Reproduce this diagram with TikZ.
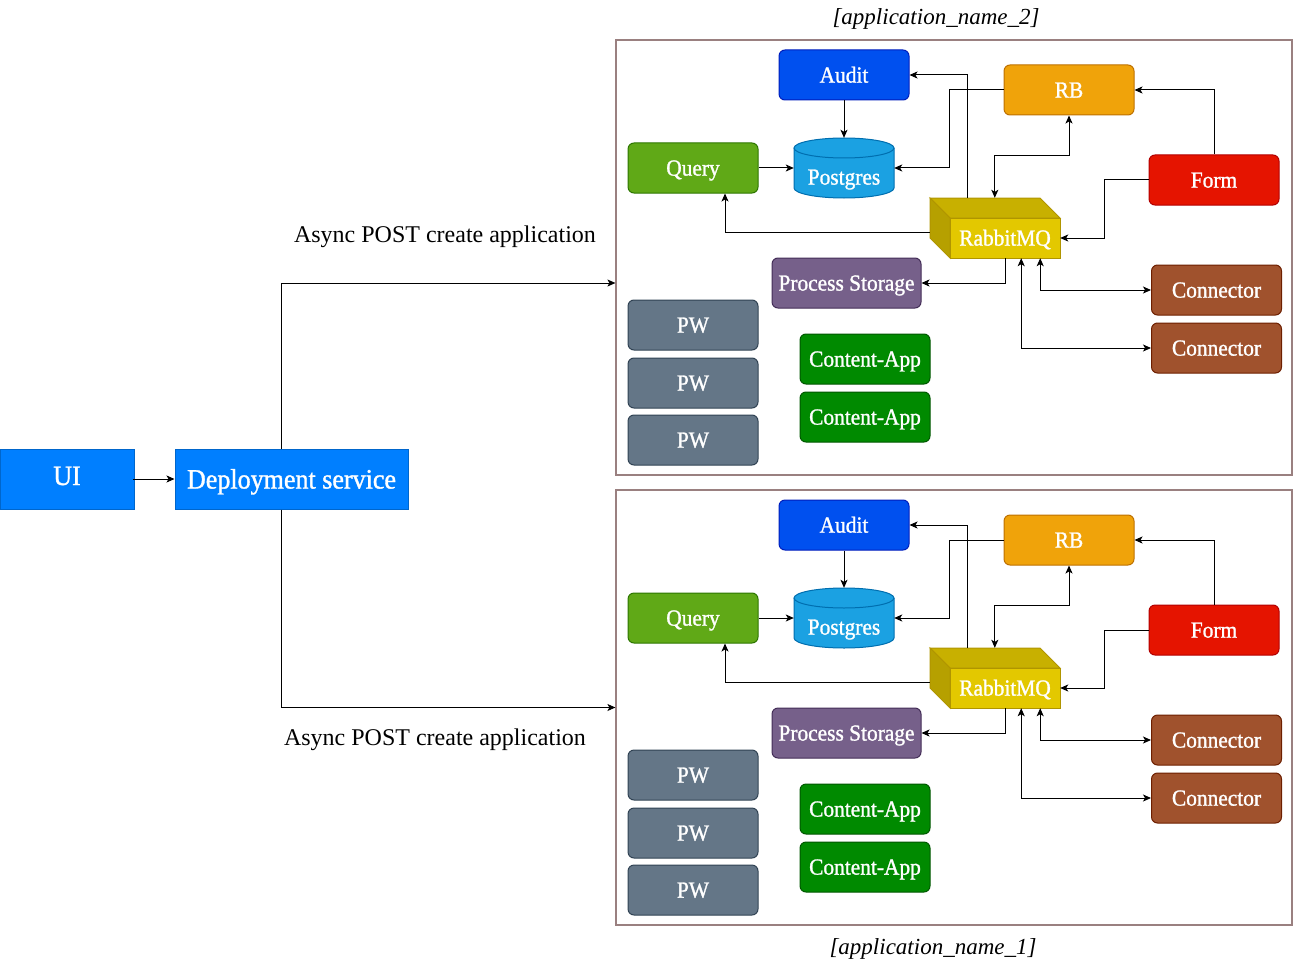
\documentclass[tikz,border=0pt]{standalone}
\usepackage{fontspec}
\setmainfont{Liberation Serif}
\newfontfamily\boxfont{Liberation Serif}[FakeStretch=0.93,FakeBold=1.2]
\usetikzlibrary{arrows.meta,calc}
\definecolor{auditf}{HTML}{0050EF}\definecolor{audits}{HTML}{001DBC}
\definecolor{rbf}{HTML}{F0A30A}\definecolor{rbs}{HTML}{BD7000}
\definecolor{queryf}{HTML}{60A917}\definecolor{querys}{HTML}{2D7600}
\definecolor{pgf}{HTML}{1BA1E2}\definecolor{pgs}{HTML}{006EAF}
\definecolor{formf}{HTML}{E51400}\definecolor{forms}{HTML}{B20000}
\definecolor{rmqf}{HTML}{E3C800}\definecolor{rmqs}{HTML}{B09500}
\definecolor{psf}{HTML}{76608A}\definecolor{pss}{HTML}{432D57}
\definecolor{conf}{HTML}{A0522D}\definecolor{cons}{HTML}{6D1F00}
\definecolor{pwf}{HTML}{647687}\definecolor{pws}{HTML}{314354}
\definecolor{caf}{HTML}{008A00}\definecolor{cas}{HTML}{005700}
\definecolor{uif}{HTML}{007FFF}\definecolor{uis}{HTML}{0066CC}
\definecolor{contc}{HTML}{9A8080}
\tikzset{
  box/.style={rectangle, rounded corners=6pt, minimum width=130pt, minimum height=50pt,
    inner sep=0pt, text=white, font=\boxfont\fontsize{23}{27}\selectfont,
    text height=20pt, text depth=4.8pt, line width=1pt},
  sqbox/.style={rectangle, minimum height=60pt, inner sep=0pt, text=white,
    font=\boxfont\fontsize{28}{32}\selectfont, text height=24pt, text depth=5pt,
    line width=1pt, fill=uif, draw=uis},
  ghost/.style={rectangle, inner sep=0pt},
  wtext/.style={inner sep=0pt, text=white, font=\boxfont\fontsize{23}{27}\selectfont,
    text height=20pt, text depth=4.8pt},
  arr/.style={-{Stealth[length=8pt,width=7pt,inset=2pt]}, line width=1pt},
  arrb/.style={{Stealth[length=8pt,width=7pt,inset=2pt]}-{Stealth[length=8pt,width=7pt,inset=2pt]}, line width=1pt},
  lbl/.style={inner sep=0pt, font=\fontsize{24}{28}\selectfont},
  applbl/.style={inner sep=0pt, font=\fontsize{23}{27}\selectfont\itshape},
  contbox/.style={rectangle, draw=contc, line width=1.2pt, minimum width=676pt, minimum height=435pt, inner sep=0pt}
}
\newcommand\appblock[2]{%
\begin{scope}[shift={(0,#1)}]
  \node[contbox] (cont#2) at (954,257.5) {};
  \node[box, fill=auditf, draw=audits] (audit#2) at (844,75) {Audit};
  \node[box, fill=rbf, draw=rbs] (rb#2) at (1069,90) {RB};
  \node[box, fill=queryf, draw=querys] (query#2) at (693,168) {Query};
  \node[box, fill=formf, draw=forms] (form#2) at (1214,180) {Form};
  \node[box, fill=psf, draw=pss, minimum width=149pt] (ps#2) at (846.5,283) {Process Storage};
  \node[box, fill=conf, draw=cons] (conA#2) at (1216.5,290) {Connector};
  \node[box, fill=conf, draw=cons] (conB#2) at (1216.5,348) {Connector};
  \node[box, fill=pwf, draw=pws] (pwA#2) at (693,325) {PW};
  \node[box, fill=pwf, draw=pws] (pwB#2) at (693,383) {PW};
  \node[box, fill=pwf, draw=pws] (pwC#2) at (693,440) {PW};
  \node[box, fill=caf, draw=cas] (caA#2) at (865,359) {Content-App};
  \node[box, fill=caf, draw=cas] (caB#2) at (865,417) {Content-App};
  % Postgres cylinder
  \fill[pgf] (794,148) -- (794,188) arc[start angle=180,end angle=360,x radius=50pt,y radius=10pt]
     -- (894,148) arc[start angle=0,end angle=180,x radius=50pt,y radius=10pt] -- cycle;
  \draw[pgs, line width=1pt] (794,148) -- (794,188) arc[start angle=180,end angle=360,x radius=50pt,y radius=10pt]
     -- (894,148);
  \draw[pgs, line width=1pt] (844,148) ellipse[x radius=50pt, y radius=10pt];
  \node[ghost, minimum width=100pt, minimum height=60pt] (pg#2) at (844,168) {};
  \node[wtext] (pgt#2) at (844,177) {Postgres};
  % RabbitMQ cube
  \filldraw[fill=rmqf!88!black, draw=rmqs, line width=1pt] (930,198) -- (1040,198) -- (1060,218) -- (950,218) -- cycle;
  \filldraw[fill=rmqf!80!black, draw=rmqs, line width=1pt] (930,198) -- (950,218) -- (950,258) -- (930,238) -- cycle;
  \filldraw[fill=rmqf, draw=rmqs, line width=1pt] (950,218) rectangle (1060,258);
  \node[ghost, minimum width=130pt, minimum height=60pt] (rmq#2) at (995,228) {};
  \node[ghost, wtext, minimum width=110pt, minimum height=40pt] (rmqfr#2) at (1005,238) {RabbitMQ};
\end{scope}
  % connectors
  \draw[arr] (audit#2.south) -- (pg#2.north);
  \draw[arr] (query#2.east) -- (pg#2.west);
  \draw[arr] (rb#2.west) -- ++(-54,0) |- (pg#2.east);
  \draw[arr] ([xshift=38pt]rmq#2.north west) |- (audit#2.east);
  \draw[arrb] ([xshift=65pt]rmq#2.north west) -- ++(0,-42) -| (rb#2.south);
  \draw[arr] (form#2.north) |- (rb#2.east);
  \draw[arr] (form#2.west) -- ++(-44,0) |- (rmqfr#2.east);
  \draw[arr] ([yshift=-4pt]rmq#2.west) -| ([xshift=32pt]query#2.south);
  \draw[arr] (rmqfr#2.south) |- (ps#2.east);
  \draw[arrb] ([xshift=-20pt]rmqfr#2.south east) |- (conA#2.west);
  \draw[arrb] ([xshift=-39pt]rmqfr#2.south east) |- (conB#2.west);
}
\begin{document}
\begin{tikzpicture}[x=1pt,y=-1pt]
  \useasboundingbox (0,0) rectangle (1313,960);
  \appblock{0}{2}
  \appblock{450}{1}
  \node[applbl] (lbl2) at (936,19) {[application\_name\_2]};
  \node[applbl] (lbl1) at (933,949) {[application\_name\_1]};
  \node[sqbox, minimum width=134pt, text height=17pt] (ui) at (67,479) {UI};
  \node[sqbox, minimum width=233pt] (dep) at (291.5,479) {Deployment service};
  \draw[arr] ([xshift=-2pt]ui.east) -- (dep.west);
  \draw[arr] ([xshift=-10pt]dep.north) |- ([yshift=-25.5pt]cont2.west);
  \draw[arr] ([xshift=-10pt]dep.south) |- (cont1.west);
  \node[lbl] (async2) at (445,237) {Async POST create application};
  \node[lbl] (async1) at (435,740) {Async POST create application};
\end{tikzpicture}
\end{document}
